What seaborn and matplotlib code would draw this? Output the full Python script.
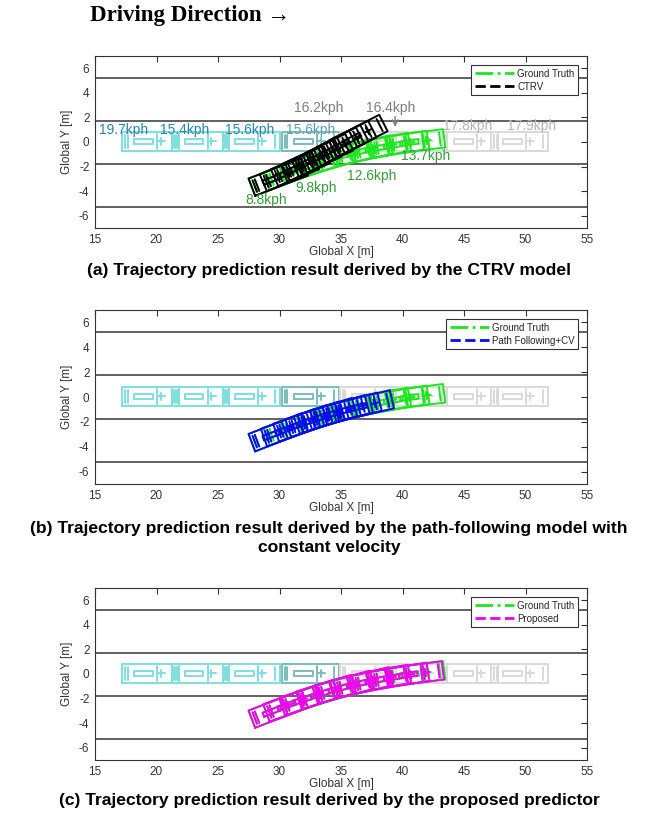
import numpy as np
import pandas as pd
import matplotlib
matplotlib.use("Agg")
import matplotlib.pyplot as plt
from matplotlib.lines import Line2D
import seaborn as sns

# ---------------- data ----------------
x_ticks = [15, 20, 25, 30, 35, 40, 45, 50, 55]
y_ticks = [-6, -4, -2, 0, 2, 4, 6]
lane_y = [5.25, 1.75, -1.75, -5.25]

# history (observed) cars of target vehicle, heading 0
hist_x = [19.5, 23.6, 27.7]
hist_y = [0.05, 0.05, 0.05]
recent_x = [32.5]
recent_y = [0.05]
# future cars of the preceding vehicle
future_x = [37.2, 41.3, 45.5, 49.5]
future_y = [0.05, 0.05, 0.05, 0.05]

# ground truth (lane change car)
gt_x = [29.9, 31.1, 32.4, 33.8, 35.3, 36.8, 38.3, 39.8, 41.1]
gt_y = [-2.85, -2.40, -1.95, -1.50, -1.08, -0.72, -0.43, -0.18, 0.02]
gt_h = [21, 20, 18.5, 17, 15, 13, 11, 9, 7]

# CTRV prediction
ctrv_x = [29.9, 30.8, 31.7, 32.6, 33.6, 34.5, 35.5, 36.4]
ctrv_y = [-2.85, -2.42, -1.97, -1.50, -1.02, -0.52, 0.0, 0.5]
ctrv_h = [21, 23, 24, 25, 26, 27, 27, 27]

# path following + constant velocity prediction
pf_x = [29.9, 30.9, 31.9, 32.9, 33.9, 34.9, 35.9, 36.9]
pf_y = [-2.85, -2.48, -2.12, -1.79, -1.47, -1.19, -0.93, -0.70]
pf_h = [21, 20, 19, 18, 17, 15.5, 14, 13]

# proposed predictor
prop_x = [29.9, 31.1, 32.4, 33.8, 35.3, 36.8, 38.3, 39.8, 41.0]
prop_y = [-2.85, -2.38, -1.92, -1.47, -1.05, -0.70, -0.42, -0.18, 0.0]
prop_h = [21, 20, 18.5, 17, 15, 13, 11, 9, 7.5]

# speed labels of panel (a)
spd_text = ["19.7kph", "15.4kph", "15.6kph", "15.6kph", "16.2kph", "16.4kph",
            "17.8kph", "17.9kph", "13.7kph", "12.6kph", "9.8kph", "8.8kph"]
spd_x = [17.3, 22.3, 27.6, 32.5, 33.2, 39.0, 45.3, 50.5, 41.9, 37.5, 33.0, 28.9]
spd_y = [0.95, 0.95, 0.95, 0.95, 2.8, 2.8, 1.33, 1.33, -1.17, -2.75, -3.75, -4.7]
spd_col = ["#2b86a8", "#2b86a8", "#2b86a8", "#5c9fb0", "#7d7d7d", "#7d7d7d",
           "#b4b4b4", "#b4b4b4", "#3a9a3a", "#3a9a3a", "#3a9a3a", "#3a9a3a"]

captions = ["(a) Trajectory prediction result derived by the CTRV model",
            "(b) Trajectory prediction result derived by the path-following model with\nconstant velocity",
            "(c) Trajectory prediction result derived by the proposed predictor"]
legend_names = ["CTRV", "Path Following+CV", "Proposed"]

# ---------------- car outline template (local coords, metres) ----------------
HL, HW = 2.3, 0.75
TEMPLATE = [
    [(-HL, -HW), (HL, -HW), (HL, HW), (-HL, HW), (-HL, -HW)],
    [(-2.05, -0.5), (-2.05, 0.5)],
    [(-1.85, -0.5), (-1.85, 0.5)],
    [(-1.3, -0.18), (0.2, -0.18), (0.2, 0.18), (-1.3, 0.18), (-1.3, -0.18)],
    [(0.55, -0.6), (0.55, 0.6)],
    [(0.85, -0.3), (0.85, 0.3)],
    [(0.55, 0.0), (1.2, 0.0)],
    [(1.95, -0.55), (1.95, 0.55)],
]


def cars_frame(xs, ys, hs=None):
    rows = []
    if hs is None:
        hs = [0.0] * len(xs)
    for ci, (cx, cy, hd) in enumerate(zip(xs, ys, hs)):
        th = np.deg2rad(hd)
        c, s = np.cos(th), np.sin(th)
        for si, seg in enumerate(TEMPLATE):
            for k, (u, v) in enumerate(seg):
                rows.append({"x": cx + u * c - v * s, "y": cy + u * s + v * c,
                             "unit": ci * 100 + si, "order": k})
    return pd.DataFrame(rows)


def draw_cars(ax, xs, ys, hs, color, lw=1.4):
    df = cars_frame(xs, ys, hs)
    sns.lineplot(data=df, x="x", y="y", units="unit", estimator=None, sort=False,
                 color=color, lw=lw, ax=ax, legend=False)


sns.set_style("white")
plt.rcParams["font.family"] = ["Liberation Sans", "DejaVu Sans"]
plt.rcParams["axes.unicode_minus"] = False

fig = plt.figure(figsize=(6.58, 8.19), dpi=100)
W, H = 658.0, 819.0
axes_px = [(56, 228), (310, 484), (588, 760)]
pred = [(ctrv_x, ctrv_y, ctrv_h, "#000000"),
        (pf_x, pf_y, pf_h, "#0a0af0"),
        (prop_x, prop_y, prop_h, "#f000f0")]
cap_y = [270, 538, 800]

lane_df = pd.DataFrame({"x": [15, 55] * len(lane_y),
                        "y": np.repeat(lane_y, 2),
                        "lane": np.repeat(range(len(lane_y)), 2)})

for i, (top, bot) in enumerate(axes_px):
    ax = fig.add_axes([95 / W, 1 - bot / H, 492 / W, (bot - top) / H])
    sns.lineplot(data=lane_df, x="x", y="y", units="lane", estimator=None,
                 sort=False, color="#606060", lw=1.4, ax=ax, legend=False)
    draw_cars(ax, hist_x, hist_y, None, "#80dede")
    draw_cars(ax, recent_x, recent_y, None, "#7cbcbc")
    draw_cars(ax, future_x, future_y, None, "#d9d9d9")
    draw_cars(ax, gt_x, gt_y, gt_h, "#1ee61e")
    px, py, ph, pc = pred[i]
    draw_cars(ax, px, py, ph, pc)

    ax.set_xlim(15, 55)
    ax.set_ylim(-7, 7)
    ax.set_xticks(x_ticks)
    ax.set_yticks(y_ticks)
    ax.tick_params(direction="in", top=True, right=True, length=4, width=0.8,
                   labelsize=8.5, colors="#333333", labelcolor="#333333", pad=4)
    for sp in ax.spines.values():
        sp.set_color("#333333")
        sp.set_linewidth(0.8)
    ax.set_xlabel("Global X [m]", fontsize=8.5, color="#333333", labelpad=0)
    ax.set_ylabel("Global Y [m]", fontsize=8.5, color="#333333", labelpad=4)

    handles = [Line2D([], [], color="#1ee61e", lw=2, ls="-."),
               Line2D([], [], color=pc, lw=2, ls="--")]
    leg = ax.legend(handles, ["Ground Truth", legend_names[i]], loc="upper right",
                    fontsize=7, frameon=True, fancybox=False, framealpha=1,
                    edgecolor="#333333", handlelength=4, borderaxespad=0.9,
                    handletextpad=0.3, borderpad=0.4, labelspacing=0.3)
    leg.get_frame().set_linewidth(0.8)

    if i == 0:
        for t, tx, ty, tc in zip(spd_text, spd_x, spd_y, spd_col):
            ax.text(tx, ty, t, color=tc, fontsize=10, ha="center", va="center")
        ax.annotate("", xy=(39.4, 1.0), xytext=(39.4, 2.3),
                    arrowprops=dict(arrowstyle="->", color="#7d7d7d", lw=1))

    fig.text(0.5, 1 - cap_y[i] / H, captions[i], ha="center", va="center",
             fontsize=12.6, fontweight="bold", linespacing=1.35, color="black")

fig.text(90 / W, 1 - 16 / H, "Driving Direction \u2192", ha="left", va="center",
         fontsize=16.5, fontweight="bold", color="black",
         family=["Liberation Serif", "DejaVu Serif"])

fig.savefig("out.png", dpi=100)
